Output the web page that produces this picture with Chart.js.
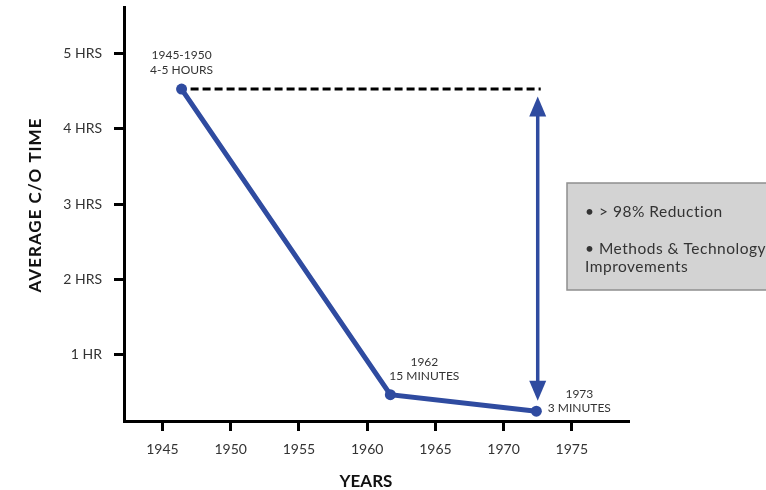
<!DOCTYPE html>
<html>
<head>
<meta charset="utf-8">
<script src="https://cdn.jsdelivr.net/npm/chart.js@4.4.1/dist/chart.umd.min.js"></script>
<style>
html,body{margin:0;padding:0;background:#fff}
#wrap{width:766px;height:490px}
</style>
</head>
<body>
<div id="wrap"><canvas id="c" width="766" height="490"></canvas></div>
<script>
// changeover time data
const years = [1946.4, 1961.7, 1972.4]
const hours = [4.53, 0.47, 0.25]
const pointTop = ["1945-1950", "1962", "1973"]
const pointBottom = ["4-5 HOURS", "15 MINUTES", "3 MINUTES"]

const xTickValues = [1945, 1950, 1955, 1960, 1965, 1970, 1975]
const yTickValues = [1, 2, 3, 4, 5]
const yTickLabels = ["1 HR", "2 HRS", "3 HRS", "4 HRS", "5 HRS"]

// reduction arrow (year, from hours, to hours)
const arrowYear = 1972.5
const arrowFrom = 4.43
const arrowTo = 0.39

const noteLines = ["• > 98% Reduction", "• Methods & Technology", "Improvements"]

const blue = '#2f4ba0'
const font = 'Lato, "Open Sans", sans-serif'

const notes = {
id: 'notes',
beforeDatasetsDraw(chart){
const {ctx, scales:{x, y}} = chart

// dashed level line from the first point over to the arrow
ctx.save()
ctx.strokeStyle = '#000'
ctx.lineWidth = 3
ctx.setLineDash([8, 4])
ctx.beginPath()
ctx.moveTo(x.getPixelForValue(years[0]) + 9, y.getPixelForValue(hours[0]))
ctx.lineTo(x.getPixelForValue(arrowYear) + 3, y.getPixelForValue(hours[0]))
ctx.stroke()
ctx.restore()

// double headed arrow
const ax = x.getPixelForValue(arrowYear)
const top = y.getPixelForValue(arrowFrom)
const bot = y.getPixelForValue(arrowTo)
ctx.save()
ctx.strokeStyle = blue
ctx.fillStyle = blue
ctx.lineWidth = 3.5
ctx.beginPath()
ctx.moveTo(ax, top + 15)
ctx.lineTo(ax, bot - 15)
ctx.stroke()
ctx.beginPath()
ctx.moveTo(ax, top)
ctx.lineTo(ax + 8.5, top + 20)
ctx.lineTo(ax - 8.5, top + 20)
ctx.closePath()
ctx.fill()
ctx.beginPath()
ctx.moveTo(ax, bot)
ctx.lineTo(ax + 8.5, bot - 20)
ctx.lineTo(ax - 8.5, bot - 20)
ctx.closePath()
ctx.fill()
ctx.restore()
},
afterDraw(chart){
const {ctx, scales:{x, y}} = chart
ctx.save()

// point labels
const offsets = [[0, -33.5, -19], [34, -33, -19], [43, -17, -3]]
ctx.font = '12px ' + font
ctx.fillStyle = '#333'
ctx.textAlign = 'center'
ctx.textBaseline = 'middle'
years.forEach((yr, i) => {
const px = x.getPixelForValue(yr) + offsets[i][0]
const py = y.getPixelForValue(hours[i])
ctx.fillText(pointTop[i], px, py + offsets[i][1])
ctx.fillText(pointBottom[i], px, py + offsets[i][2])
})

// grey note box, runs off the right edge
ctx.fillStyle = '#d3d3d3'
ctx.fillRect(567, 183, 230, 107)
ctx.strokeStyle = '#8f8f8f'
ctx.lineWidth = 1.5
ctx.strokeRect(567, 183, 230, 107)
ctx.fillStyle = '#333'
ctx.font = '15.5px ' + font
ctx.letterSpacing = '0.5px'
ctx.textAlign = 'left'
ctx.fillText(noteLines[0], 585, 212)
ctx.fillText(noteLines[1], 585, 249)
ctx.fillText(noteLines[2], 585, 267)

// axis titles
ctx.fillStyle = '#111'
ctx.textAlign = 'center'
ctx.letterSpacing = '0px'
ctx.font = 'bold 17px ' + font
ctx.fillText('YEARS', 366, 482)
ctx.translate(36, 205)
ctx.rotate(-Math.PI / 2)
ctx.letterSpacing = '1px'
ctx.font = 'bold 17px ' + font
ctx.fillText('AVERAGE C/O TIME', 0, 0)
ctx.restore()
}
}

new Chart(document.getElementById('c'), {
type: 'line',
data: {
datasets: [{
data: years.map((yr, i) => ({x: yr, y: hours[i]})),
borderColor: blue,
backgroundColor: blue,
borderWidth: 5,
pointRadius: 5.5,
pointBorderWidth: 0,
pointBackgroundColor: blue,
tension: 0,
clip: false
}]
},
options: {
responsive: false,
animation: false,
devicePixelRatio: 1,
layout: {padding: {top: 7, right: 137, left: 0, bottom: 0}},
plugins: {legend: {display: false}, tooltip: {enabled: false}},
scales: {
x: {
type: 'linear',
min: 1942.18,
max: 1979.19,
afterBuildTicks: s => { s.ticks = xTickValues.map(v => ({value: v})) },
afterFit: s => { s.height = 69; s.paddingLeft = 0; s.paddingRight = 0 },
grid: {drawOnChartArea: false, drawTicks: true, tickLength: 10, tickColor: '#000', tickWidth: 3},
border: {display: true, color: '#000', width: 3},
ticks: {padding: 10, color: '#333', font: {family: font, size: 14}, callback: v => String(v)}
},
y: {
min: 0.12,
max: 5.62,
afterBuildTicks: s => { s.ticks = yTickValues.map(v => ({value: v})) },
afterFit: s => { s.width = 124; s.paddingTop = 0; s.paddingBottom = 0 },
grid: {drawOnChartArea: false, drawTicks: true, tickLength: 10, tickColor: '#000', tickWidth: 3},
border: {display: true, color: '#000', width: 3},
ticks: {padding: 12, color: '#333', font: {family: font, size: 14}, callback: v => yTickLabels[yTickValues.indexOf(v)]}
}
}
},
plugins: [notes]
})
</script>
</body>
</html>
